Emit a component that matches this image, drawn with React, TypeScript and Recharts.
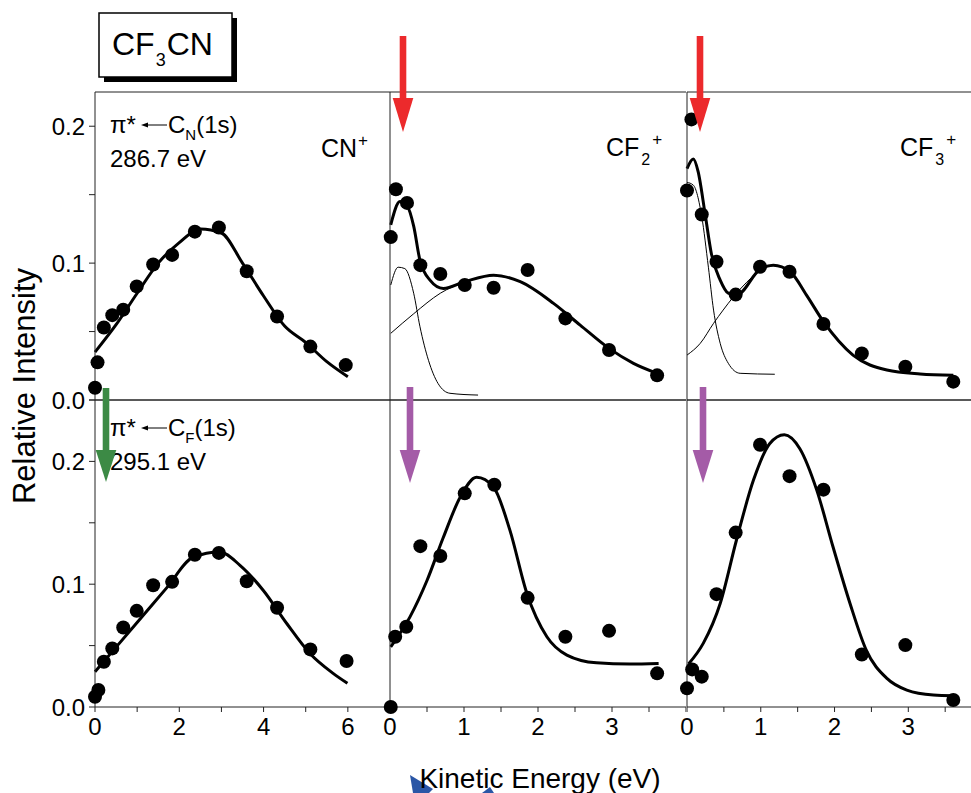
import { ComposedChart, Line, Scatter, XAxis, YAxis } from 'recharts';

type Pt = { x: number; y: number };

const FONT = '"Liberation Sans", Arial, Helvetica, sans-serif';
const AXIS = '#222';

const pts = (a: number[][]): Pt[] => a.map(([x, y]) => ({ x, y }));

// ---- tick values ----
const cnTicks = [0, 1, 2, 3, 4, 5, 6, 7];
const cnLabels = [0, 2, 4, 6];
const fragTicks = [0, 0.5, 1, 1.5, 2, 2.5, 3, 3.5, 4];
const frag3Ticks = [0, 0.5, 1, 1.5, 2, 2.5, 3, 3.5];
const fragLabels = [0, 1, 2, 3];
const yTicksTop = [0, 0.05, 0.1, 0.15, 0.2];
const yTicksBottom = [0, 0.05, 0.1, 0.15, 0.2, 0.25];
const yLabels = [0, 0.1, 0.2];

// ---- π* <- C_N(1s), 286.7 eV ----
const cnTopData = pts([
  [0, 0.009], [0.06, 0.0275], [0.21, 0.053], [0.41, 0.062], [0.67, 0.066], [0.99, 0.083],
  [1.38, 0.099], [1.83, 0.106], [2.37, 0.123], [2.94, 0.126], [3.6, 0.094], [4.32, 0.061],
  [5.11, 0.039], [5.95, 0.0255],
]);
const cnTopFit = pts([
  [0, 0.035], [0.5, 0.055], [1, 0.078], [1.5, 0.1], [2, 0.115], [2.5, 0.125], [3, 0.122],
  [3.5, 0.1], [4, 0.076], [4.5, 0.054], [5, 0.042], [5.5, 0.028], [6, 0.017],
]);

const cf2TopData = pts([
  [0.01, 0.119], [0.08, 0.154], [0.23, 0.144], [0.41, 0.0985], [0.68, 0.092], [1.01, 0.084],
  [1.4, 0.082], [1.86, 0.095], [2.37, 0.0596], [2.96, 0.0365], [3.61, 0.018],
]);
const cf2TopFit = pts([
  [0.01, 0.128], [0.135, 0.145], [0.23, 0.142], [0.32, 0.127], [0.405, 0.102], [0.54, 0.0876],
  [0.72, 0.0815], [1.01, 0.0864], [1.4, 0.0912], [1.76, 0.0864], [2.21, 0.0706], [2.57, 0.0547],
  [2.96, 0.0377], [3.29, 0.0268], [3.61, 0.0195],
]);
const cf2TopFast = pts([
  [0.01, 0.084], [0.11, 0.097], [0.2, 0.096], [0.32, 0.078], [0.405, 0.0535], [0.52, 0.029],
  [0.65, 0.012], [0.81, 0.0049], [1.19, 0.0036],
]);
const cf2TopSlow = pts([[0.01, 0.0487], [0.32, 0.063], [0.68, 0.078], [1.01, 0.0864]]);

const cf3TopData = pts([
  [0, 0.153], [0.06, 0.205], [0.2, 0.1355], [0.4, 0.101], [0.66, 0.077], [0.99, 0.0973],
  [1.39, 0.0937], [1.85, 0.0555], [2.37, 0.034], [2.96, 0.0243], [3.61, 0.0134],
]);
const cf3TopFit = pts([
  [0, 0.169], [0.085, 0.176], [0.15, 0.167], [0.245, 0.136], [0.33, 0.107], [0.45, 0.0876],
  [0.56, 0.078], [0.67, 0.0766], [0.99, 0.0954], [1.17, 0.0985], [1.4, 0.0937], [1.62, 0.0766],
  [1.85, 0.0572], [2.25, 0.0328], [2.71, 0.0219], [3.16, 0.019], [3.61, 0.018],
]);
const cf3TopFast = pts([
  [0, 0.159], [0.085, 0.157], [0.2, 0.134], [0.29, 0.097], [0.36, 0.0657], [0.45, 0.0414],
  [0.56, 0.0268], [0.72, 0.0195], [1.19, 0.0188],
]);
const cf3TopSlow = pts([[0, 0.0328], [0.18, 0.0414], [0.36, 0.056], [0.49, 0.0657], [0.63, 0.0754], [0.99, 0.0954]]);

// ---- π* <- C_F(1s), 295.1 eV ----
const cnBotData = pts([
  [0, 0.0084], [0.08, 0.0138], [0.21, 0.0368], [0.41, 0.0477], [0.67, 0.0648], [0.99, 0.0783],
  [1.38, 0.0992], [1.83, 0.1019], [2.37, 0.124], [2.94, 0.1255], [3.6, 0.1024], [4.32, 0.0808],
  [5.11, 0.0469], [5.97, 0.0374],
]);
const cnBotFit = pts([
  [0, 0.0287], [0.44, 0.0463], [1.07, 0.0716], [1.7, 0.097], [2.33, 0.122], [2.96, 0.1263],
  [3.44, 0.1154], [3.99, 0.0951], [4.55, 0.068], [5.1, 0.0436], [5.65, 0.0274], [5.99, 0.0193],
]);

const cf2BotData = pts([
  [0.01, 0], [0.07, 0.0572], [0.22, 0.0653], [0.41, 0.131], [0.68, 0.123], [1.01, 0.174],
  [1.41, 0.181], [1.86, 0.0889], [2.37, 0.0572], [2.96, 0.062], [3.61, 0.0274],
]);
const cf2BotFit = pts([
  [0.01, 0.049], [0.27, 0.0734], [0.5, 0.103], [0.72, 0.138], [0.95, 0.171], [1.17, 0.187],
  [1.4, 0.179], [1.62, 0.144], [1.85, 0.0924], [2.12, 0.0572], [2.39, 0.0423], [2.79, 0.036],
  [3.24, 0.035], [3.63, 0.0355],
]);

const cf3BotData = pts([
  [0, 0.0152], [0.07, 0.0306], [0.2, 0.0247], [0.4, 0.0919], [0.66, 0.142], [0.99, 0.2136],
  [1.39, 0.188], [1.85, 0.177], [2.37, 0.0428], [2.96, 0.0504], [3.61, 0.0057],
]);
const cf3BotFit = pts([
  [0.02, 0.035], [0.22, 0.0518], [0.45, 0.0843], [0.67, 0.1358], [0.9, 0.1846], [1.12, 0.2144],
  [1.32, 0.2217], [1.53, 0.2103], [1.76, 0.1764], [1.98, 0.1303], [2.21, 0.0843], [2.43, 0.0463],
  [2.71, 0.0233], [2.98, 0.0138], [3.34, 0.0098], [3.61, 0.0092],
]);

const tickFont = { fontSize: 24, fill: '#000', fontFamily: FONT };

const inList = (v: number, list: number[]) => list.some((l) => Math.abs(l - v) < 1e-6);

function Dot(props: any) {
  const { cx, cy } = props;
  if (cx == null || cy == null) return null;
  return <circle cx={cx} cy={cy} r={7} fill="#000" />;
}

interface PanelProps {
  left: number;
  top: number;
  yAxisWidth: number;
  plotW: number;
  plotH: number;
  xAxisHeight: number;
  xDomain: [number, number];
  xTicks: number[];
  xLabels: number[];
  yDomain: [number, number];
  yTicks: number[];
  showX: boolean;
  showY: boolean;
  data: Pt[];
  fit: Pt[];
  thin?: Pt[][];
}

const PAD = 4;

function Panel(p: PanelProps) {
  return (
    <div style={{ position: 'absolute', left: p.left - p.yAxisWidth, top: p.top - PAD }}>
      <ComposedChart
        width={p.yAxisWidth + p.plotW}
        height={p.plotH + p.xAxisHeight + PAD}
        margin={{ top: PAD, right: 0, bottom: 0, left: 0 }}
      >
        <XAxis
          type="number"
          dataKey="x"
          domain={p.xDomain}
          ticks={p.xTicks}
          interval={0}
          height={p.xAxisHeight}
          tickSize={5}
          tickMargin={6}
          stroke={AXIS}
          tick={p.showX ? tickFont : false}
          tickFormatter={(v: number) => (inList(v, p.xLabels) ? String(v) : '')}
        />
        <XAxis
          xAxisId="top"
          orientation="top"
          mirror
          type="number"
          dataKey="x"
          domain={p.xDomain}
          ticks={p.xTicks}
          interval={0}
          tickSize={5}
          stroke={AXIS}
          tick={false}
        />
        <YAxis
          type="number"
          dataKey="y"
          domain={p.yDomain}
          ticks={p.yTicks}
          interval={0}
          width={p.yAxisWidth}
          tickSize={6}
          tickMargin={4}
          stroke={AXIS}
          tick={p.showY ? tickFont : false}
          tickFormatter={(v: number) => (inList(v, yLabels) ? v.toFixed(1) : '')}
        />
        {(p.thin || []).map((c, i) => (
          <Line
            key={i}
            data={c}
            dataKey="y"
            type="monotone"
            stroke="#000"
            strokeWidth={1}
            dot={false}
            activeDot={false}
            isAnimationActive={false}
          />
        ))}
        <Line
          data={p.fit}
          dataKey="y"
          type="monotone"
          stroke="#000"
          strokeWidth={3}
          dot={false}
          activeDot={false}
          isAnimationActive={false}
        />
        <Scatter data={p.data} dataKey="y" fill="#000" shape={<Dot />} isAnimationActive={false} />
      </ComposedChart>
    </div>
  );
}

function Arrow({ x, y1, y2, headTop, color }: { x: number; y1: number; y2: number; headTop: number; color: string }) {
  return (
    <g>
      <rect x={x - 3.3} y={y1} width={6.6} height={headTop - y1 + 1} fill={color} />
      <polygon points={`${x - 10.3},${headTop} ${x + 10.3},${headTop} ${x},${y2}`} fill={color} />
    </g>
  );
}

function Transition({ y, sub }: { y: number; sub: string }) {
  return (
    <g fontFamily={FONT} fill="#000">
      <text x={110} y={y} fontSize={24}>π*</text>
      <line x1={145} y1={y - 8} x2={167} y2={y - 8} stroke="#000" strokeWidth={1} />
      <polygon points={`${141},${y - 8} ${148},${y - 10.5} ${148},${y - 5.5}`} fill="#000" />
      <text x={168} y={y} fontSize={24}>
        C<tspan fontSize={15} dy={7}>{sub}</tspan>
        <tspan dy={-7}>(1s)</tspan>
      </text>
    </g>
  );
}

function Ion({ x, y, name, sub }: { x: number; y: number; name: string; sub?: string }) {
  return (
    <text x={x} y={y} fontSize={25} fontFamily={FONT} fill="#000">
      {name}
      {sub && (
        <tspan fontSize={16} dy={9} dx={2}>
          {sub}
        </tspan>
      )}
      <tspan fontSize={17} dy={sub ? -20 : -11} dx={sub ? 2 : 1}>
        +
      </tspan>
    </text>
  );
}

export default function App() {
  const row1 = { top: 92, plotH: 308, xAxisHeight: 22, yDomain: [0, 0.225] as [number, number], yTicks: yTicksTop, showX: false };
  const row2 = { top: 400, plotH: 307, xAxisHeight: 45, yDomain: [0, 0.25] as [number, number], yTicks: yTicksBottom, showX: true };
  const col1 = { left: 95, plotW: 295, yAxisWidth: 95, xDomain: [0, 7] as [number, number], xTicks: cnTicks, xLabels: cnLabels, showY: true };
  const col2 = { left: 390, plotW: 296, yAxisWidth: 12, xDomain: [0, 4] as [number, number], xTicks: fragTicks, xLabels: fragLabels, showY: false };
  const col3 = { left: 687, plotW: 284, yAxisWidth: 12, xDomain: [0, 3.85] as [number, number], xTicks: frag3Ticks, xLabels: fragLabels, showY: false };

  return (
    <div style={{ position: 'absolute', left: 0, top: 0, width: 971, height: 793, overflow: 'hidden', background: '#fff' }}>
      <Panel {...row1} {...col1} data={cnTopData} fit={cnTopFit} />
      <Panel {...row1} {...col2} data={cf2TopData} fit={cf2TopFit} thin={[cf2TopFast, cf2TopSlow]} />
      <Panel {...row1} {...col3} data={cf3TopData} fit={cf3TopFit} thin={[cf3TopFast, cf3TopSlow]} />
      <Panel {...row2} {...col1} data={cnBotData} fit={cnBotFit} />
      <Panel {...row2} {...col2} data={cf2BotData} fit={cf2BotFit} />
      <Panel {...row2} {...col3} data={cf3BotData} fit={cf3BotFit} />

      <svg width={971} height={793} style={{ position: 'absolute', left: 0, top: 0, pointerEvents: 'none' }}>
        {/* title box */}
        <rect x={104} y={18} width={133} height={64} fill="#000" />
        <rect x={99} y={13} width={133} height={64} fill="#fff" stroke="#000" strokeWidth={1.5} />
        <text x={112} y={55} fontSize={32} fontFamily={FONT} fill="#000">
          CF<tspan fontSize={18} dy={11} dx={1}>3</tspan>
          <tspan dy={-11} dx={1}>CN</tspan>
        </text>

        <Transition y={133} sub="N" />
        <text x={110} y={167} fontSize={24} fontFamily={FONT} fill="#000">286.7 eV</text>
        <Transition y={436} sub="F" />
        <text x={110} y={470} fontSize={24} fontFamily={FONT} fill="#000">295.1 eV</text>

        <Ion x={321} y={157} name="CN" />
        <Ion x={606} y={156} name="CF" sub="2" />
        <Ion x={900} y={156} name="CF" sub="3" />

        <Arrow x={403} y1={36} y2={132} headTop={98} color="#ec2a2c" />
        <Arrow x={700} y1={36} y2={132} headTop={98} color="#ec2a2c" />
        <Arrow x={106} y1={388} y2={482} headTop={450} color="#3c8a45" />
        <Arrow x={410} y1={387} y2={483} headTop={450} color="#a45ba7" />
        <Arrow x={703} y1={387} y2={483} headTop={450} color="#a45ba7" />

        <polygon points="410,775 433,789 429,793 413,793" fill="#2a56a6" />
        <polygon points="490,787 494,793 482,793" fill="#2a56a6" />

        <text
          x={35}
          y={386}
          transform="rotate(-90 35 386)"
          textAnchor="middle"
          fontSize={31}
          fontFamily={FONT}
          fill="#000"
        >
          Relative Intensity
        </text>
        <text x={540} y={788} textAnchor="middle" fontSize={28} fontFamily={FONT} fill="#000">
          Kinetic Energy (eV)
        </text>
      </svg>
    </div>
  );
}
